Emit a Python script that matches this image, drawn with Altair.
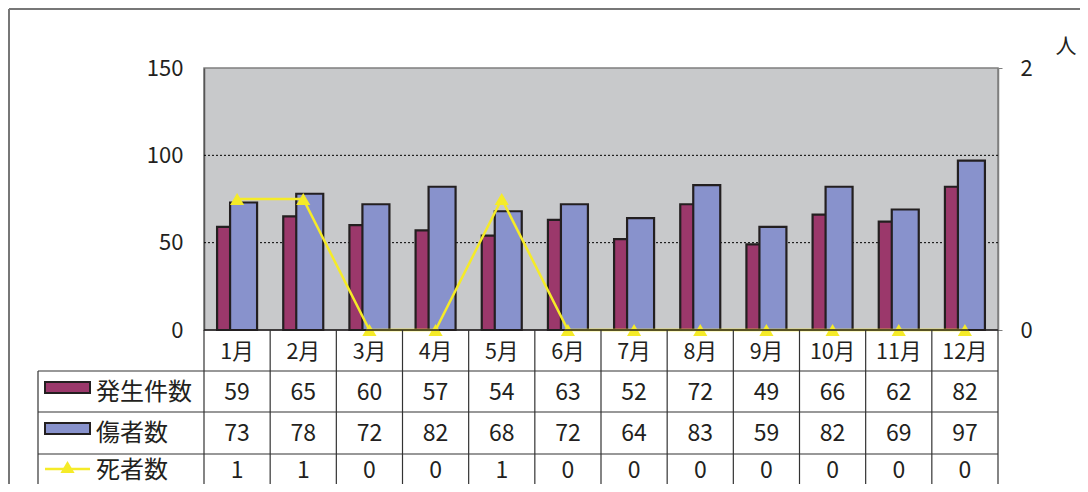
import altair as alt
import pandas as pd

# ---------------- data ----------------
months = ["1月", "2月", "3月", "4月", "5月", "6月", "7月", "8月", "9月", "10月", "11月", "12月"]
incidents = [59, 65, 60, 57, 54, 63, 52, 72, 49, 66, 62, 82]
injured = [73, 78, 72, 82, 68, 72, 64, 83, 59, 82, 69, 97]
deaths = [1, 1, 0, 0, 1, 0, 0, 0, 0, 0, 0, 0]
series_names = ["発生件数", "傷者数", "死者数"]
left_ticks = [0, 50, 100, 150]
right_ticks = [0, 1, 2]
unit_label = "人"

# ---------------- styles ----------------
FONT = "Noto Sans CJK JP"
MAROON = "#9B386B"
BLUE = "#8892CC"
YELLOW = "#F5EB28"
BG = "#C8C9CB"
INK = "#231F20"
LINE = "#333333"
PW, PH = 794, 262
PAD_L, PAD_T, PAD_R, PAD_B = 196, 60, 82, 154

n = len(months)
df = pd.DataFrame({
    "m": list(range(1, n + 1)),
    "month": months,
    "inc": incidents,
    "inj": injured,
    "dea": deaths,
})
bounds = pd.DataFrame({"b": [i + 0.5 for i in range(n + 1)]})
grid_df = pd.DataFrame({"g": left_ticks[1:-1]})
one = pd.DataFrame({"k": [0]})

xs = alt.Scale(domain=[0.5, n + 0.5], nice=False, zero=False, padding=0)
X = alt.X("m:Q", scale=xs, axis=None)
ys_left = alt.Scale(domain=[left_ticks[0], left_ticks[-1]], nice=False)
ys_right = alt.Scale(domain=[right_ticks[0], right_ticks[-1]], nice=False)

# ---------------- left (bars) ----------------
grid = alt.Chart(grid_df).mark_rule(color="#000000", strokeWidth=1, strokeDash=[2, 2]).encode(
    y=alt.Y("g:Q", scale=ys_left,
            axis=alt.Axis(values=left_ticks, grid=False, tickSize=0, labelPadding=21,
                          labelFontSize=22, labelFont=FONT, labelColor=INK,
                          domainColor="#555555", domainWidth=1.5, title=None)),
    x=alt.value(0), x2=alt.value(PW),
)
bar_inc = alt.Chart(df).mark_bar(width=27, xOffset=-6.5, color=MAROON, stroke=INK, strokeWidth=2.2).encode(
    x=X, y=alt.Y("inc:Q", scale=ys_left)
)
bar_inj = alt.Chart(df).mark_bar(width=27, xOffset=6.5, color=BLUE, stroke=INK, strokeWidth=2.2).encode(
    x=X, y=alt.Y("inj:Q", scale=ys_left)
)
left = alt.layer(grid, bar_inc, bar_inj)

# ---------------- right (line) ----------------
line = alt.Chart(df).mark_line(color=YELLOW, strokeWidth=2.5).encode(
    x=X,
    y=alt.Y("dea:Q", scale=ys_right,
            axis=alt.Axis(values=right_ticks, format="d", orient="right", grid=False, tickSize=4,
                          tickColor="#7f7f7f", labelPadding=18, labelFontSize=22,
                          labelFont=FONT, labelColor=INK, domainColor="#7f7f7f",
                          domainWidth=1.5, title=None)),
)
pts = alt.Chart(df).mark_point(shape="triangle-up", filled=True, size=200, color=YELLOW, opacity=1).encode(
    x=X, y=alt.Y("dea:Q", scale=ys_right)
)
right = alt.layer(line, pts)

# ---------------- table ----------------
layers = []
# x-axis line
layers.append(alt.Chart(one).mark_rule(color=INK, strokeWidth=1.5).encode(
    x=alt.value(0), x2=alt.value(PW), y=alt.value(PH)))
# vertical column lines
layers.append(alt.Chart(bounds).mark_rule(color=LINE, strokeWidth=1.2).encode(
    x=alt.X("b:Q", scale=xs, axis=None), y=alt.value(PH), y2=alt.value(PH + PAD_B)))
# left edge
layers.append(alt.Chart(one).mark_rule(color=LINE, strokeWidth=1.2).encode(
    x=alt.value(-166), y=alt.value(303), y2=alt.value(PH + PAD_B)))
# horizontal lines
for yy in [303, 344, 386]:
    layers.append(alt.Chart(one).mark_rule(color=LINE, strokeWidth=1.2).encode(
        x=alt.value(-166), x2=alt.value(PW), y=alt.value(yy)))
# month labels
layers.append(alt.Chart(df).mark_text(font=FONT, fontSize=21.5, color=INK, baseline="middle").encode(
    x=X, y=alt.value(285), text="month:N"))
# values
row_y = [324.5, 366, 403]
for field, yy in zip(["inc", "inj", "dea"], row_y):
    layers.append(alt.Chart(df).mark_text(font=FONT, fontSize=23, color=INK, baseline="middle").encode(
        x=X, y=alt.value(yy), text=f"{field}:Q"))
# row labels
for name, yy in zip(series_names, row_y):
    layers.append(alt.Chart(pd.DataFrame({"s": [name]})).mark_text(
        font=FONT, fontSize=24, color=INK, baseline="middle", align="left").encode(
        x=alt.value(-108), y=alt.value(yy), text="s:N"))
# legend keys
layers.append(alt.Chart(one).mark_rect(color=MAROON, stroke=INK, strokeWidth=2).encode(
    x=alt.value(-159), x2=alt.value(-114), y=alt.value(314), y2=alt.value(325)))
layers.append(alt.Chart(one).mark_rect(color=BLUE, stroke=INK, strokeWidth=2).encode(
    x=alt.value(-159), x2=alt.value(-114), y=alt.value(355), y2=alt.value(366)))
layers.append(alt.Chart(one).mark_rule(color=YELLOW, strokeWidth=2.5).encode(
    x=alt.value(-159), x2=alt.value(-114), y=alt.value(401)))
layers.append(alt.Chart(one).mark_point(shape="triangle-up", filled=True, size=200, color=YELLOW, opacity=1).encode(
    x=alt.value(-136.5), y=alt.value(399)))
# unit label
layers.append(alt.Chart(pd.DataFrame({"s": [unit_label]})).mark_text(
    font=FONT, fontSize=21, color=INK, baseline="middle", align="center").encode(
    x=alt.value(862), y=alt.value(-21), text="s:N"))
# outer frame
layers.append(alt.Chart(one).mark_rule(color="#777777", strokeWidth=2).encode(
    x=alt.value(-PAD_L + 1), x2=alt.value(PW + PAD_R), y=alt.value(-PAD_T + 1)))
layers.append(alt.Chart(one).mark_rule(color="#777777", strokeWidth=2).encode(
    x=alt.value(-PAD_L + 1), y=alt.value(-PAD_T + 1), y2=alt.value(PH + PAD_B)))

chart = alt.layer(left, right, *layers).resolve_scale(y="independent").properties(
    width=PW, height=PH,
    padding={"left": PAD_L, "top": PAD_T, "right": PAD_R, "bottom": PAD_B},
    autosize=alt.AutoSizeParams(type="none"),
    background="white",
).configure_view(fill=BG, stroke="#7f7f7f", strokeWidth=1.5)

chart.save("out.html", embed_options={"renderer": "svg", "actions": False})
